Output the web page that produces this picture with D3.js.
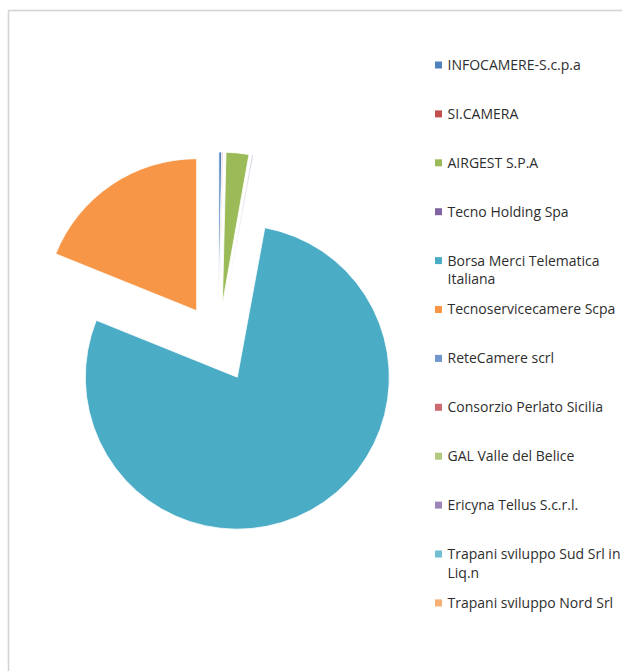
<!DOCTYPE html>
<html>
<head>
<meta charset="utf-8">
<script src="https://cdn.jsdelivr.net/npm/d3@7"></script>
<style>
  html, body { margin: 0; padding: 0; background: #fff; }
  svg { display: block; }
</style>
</head>
<body>
<div id="chart"></div>
<script>
// partecipate, in % (letti a occhio dal grafico)
const categories = [
  'INFOCAMERE-S.c.p.a',
  'SI.CAMERA',
  'AIRGEST S.P.A',
  'Tecno Holding Spa',
  'Borsa Merci Telematica Italiana',
  'Tecnoservicecamere Scpa',
  'ReteCamere scrl',
  'Consorzio Perlato Sicilia',
  'GAL Valle del Belice',
  'Ericyna Tellus S.c.r.l.',
  'Trapani sviluppo Sud Srl in Liq.n',
  'Trapani sviluppo Nord Srl'
];
const values = [0.30, 0.08, 2.42, 0.10, 78.2, 18.9, 0, 0, 0, 0, 0, 0];
const colors = [
  '#4F81BD', '#C0504D', '#9BBB59', '#8064A2', '#4BACC6', '#F79646',
  '#7096CC', '#CD6B70', '#B0C97F', '#9C86B8', '#72BFD3', '#F6AE72'
];

const width = 622, height = 671;
const cx = 218.5, cy = 343, radius = 152, explode = 39;

const svg = d3.select('#chart')
  .append('svg')
  .attr('width', width)
  .attr('height', height);

// cornice dell'area grafico
svg.append('rect')
  .attr('x', 8.5)
  .attr('y', 10.5)
  .attr('width', 700)
  .attr('height', 700)
  .attr('fill', 'none')
  .attr('stroke', '#d4d4d4')
  .attr('stroke-width', 1.6);

const data = categories.map((c, i) => ({ label: c, value: values[i], color: colors[i] }));

const pie = d3.pie().sort(null).value((d) => d.value);
const arcGenerator = d3.arc().innerRadius(0).outerRadius(radius);

const slices = svg.append('g')
  .attr('transform', `translate(${cx}, ${cy})`);

slices.selectAll('path')
  .data(pie(data).filter((d) => d.value > 0))
  .enter()
  .append('path')
  .attr('d', arcGenerator)
  .attr('fill', (d) => d.data.color)
  .attr('stroke', 'white')
  .attr('stroke-width', 0.8)
  .attr('transform', (d) => {
    const a = (d.startAngle + d.endAngle) / 2;
    return `translate(${explode * Math.sin(a)}, ${-explode * Math.cos(a)})`;
  });

// legenda
const legendX = 435, legendTop = 65, rowStep = 48.9, maxTextWidth = 176, lineH = 19;

const legend = svg.selectAll('.legend')
  .data(data)
  .enter()
  .append('g')
  .attr('class', 'legend')
  .attr('transform', (d, i) => `translate(${legendX}, ${legendTop + i * rowStep})`);

legend.append('rect')
  .attr('x', 0)
  .attr('y', -3.5)
  .attr('width', 7)
  .attr('height', 7)
  .attr('fill', (d) => d.color);

legend.each(function (d) {
  const g = d3.select(this);
  const text = g.append('text')
    .attr('x', 12.5)
    .attr('y', 0)
    .style('font-family', '"Open Sans", Lato, sans-serif')
    .style('font-size', '14px')
    .style('fill', '#2e2e2e');
  const words = d.label.split(' ');
  let line = [];
  let tspan = text.append('tspan').attr('x', 12.5).attr('dy', '0.35em');
  let lineNo = 0;
  words.forEach((w) => {
    line.push(w);
    tspan.text(line.join(' '));
    if (tspan.node().getComputedTextLength() > maxTextWidth && line.length > 1) {
      line.pop();
      tspan.text(line.join(' '));
      line = [w];
      lineNo += 1;
      tspan = text.append('tspan')
        .attr('x', 12.5)
        .attr('y', lineNo * lineH)
        .attr('dy', '0.35em')
        .text(w);
    }
  });
});
</script>
</body>
</html>
